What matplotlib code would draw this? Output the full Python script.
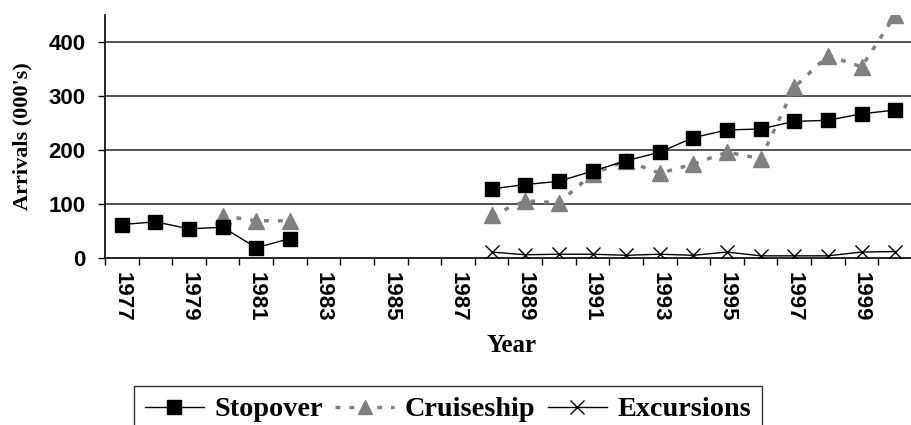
import numpy as np
import matplotlib
matplotlib.use("Agg")
import matplotlib.pyplot as plt

nan = np.nan
years = list(range(1977, 2001))
stopover = [62, 67, 54, 57, 19, 36, nan, nan, nan, nan, nan,
            128, 136, 142, 161, 180, 196, 223, 237, 239, 253, 255, 267, 274]
cruiseship = [nan, nan, nan, 78, 69, 69, nan, nan, nan, nan, nan,
              79, 106, 102, 156, 180, 157, 174, 196, 184, 316, 375, 354, 450]
excursions = [nan] * 11 + [11, 6, 7, 7, 5, 7, 5, 11, 4, 4, 4, 11, 12]
tick_labels = [str(y) if (y - 1977) % 2 == 0 else "" for y in years]

W, H = 912, 425
fig = plt.figure(figsize=(W / 100, H / 100), dpi=100)
ax = fig.add_axes([105 / W, 1 - 258 / H, (W - 105) / W, (258 - 15) / H])

x = np.arange(len(years))
ax.plot(x, stopover, color="black", lw=1, marker="s", ms=10,
        mfc="black", mec="black", label="Stopover", zorder=4)
ax.plot(x, cruiseship, color="#808080", lw=2.5, ls=(0, (1.4, 2.6)),
        marker="^", ms=11, mfc="#808080", mec="#808080",
        label="Cruiseship", zorder=3)
ax.plot(x, excursions, color="black", lw=1, marker="x", ms=10, mew=1,
        label="Excursions", zorder=3)

ax.set_ylim(0, 450)
ax.set_xlim(-0.5, (W - 105) / 33.86 - 0.5)
ax.set_yticks([0, 100, 200, 300, 400])
for v in [100, 200, 300, 400]:
    ax.axhline(v, color="#333333", lw=1.2, zorder=1)

ax.set_xticks(x)
ax.set_xticklabels(tick_labels, rotation=-90, fontsize=16,
                   fontweight="bold", family="Liberation Sans")
ax.set_xticks(np.arange(-0.5, len(years), 1), minor=True)
ax.tick_params(axis="x", which="major", length=0, pad=10)
ax.tick_params(axis="x", which="minor", length=5, width=1, color="black")
ax.tick_params(axis="y", length=5, width=1, pad=9)
for t in ax.get_yticklabels():
    t.set_fontsize(16)
    t.set_fontweight("bold")
    t.set_family("Liberation Sans")

ax.spines["top"].set_visible(False)
ax.spines["right"].set_visible(False)
ax.spines["left"].set_linewidth(1.2)
ax.spines["bottom"].set_linewidth(1.2)

ax.set_ylabel("Arrivals (000's)", fontsize=16, fontweight="bold",
              family="Liberation Serif")
ax.yaxis.set_label_coords(-73 / (W - 105), 0.5)
ax.set_xlabel("Year", fontsize=18, fontweight="bold",
              family="Liberation Serif")
ax.xaxis.set_label_coords((512 - 105) / (W - 105), -(334 - 258) / (258 - 15))

leg = fig.legend(loc="upper left", bbox_to_anchor=(134 / W, 1 - 386 / H),
                 ncol=3, frameon=True, fancybox=False, edgecolor="black",
                 prop={"family": "Liberation Serif", "weight": "bold", "size": 20.3},
                 handlelength=2.1, handletextpad=0.36, columnspacing=0.45,
                 borderpad=0.38, borderaxespad=0, markerscale=0.95)
leg.get_frame().set_linewidth(1)

fig.savefig("out.png", dpi=100)
plt.close(fig)
